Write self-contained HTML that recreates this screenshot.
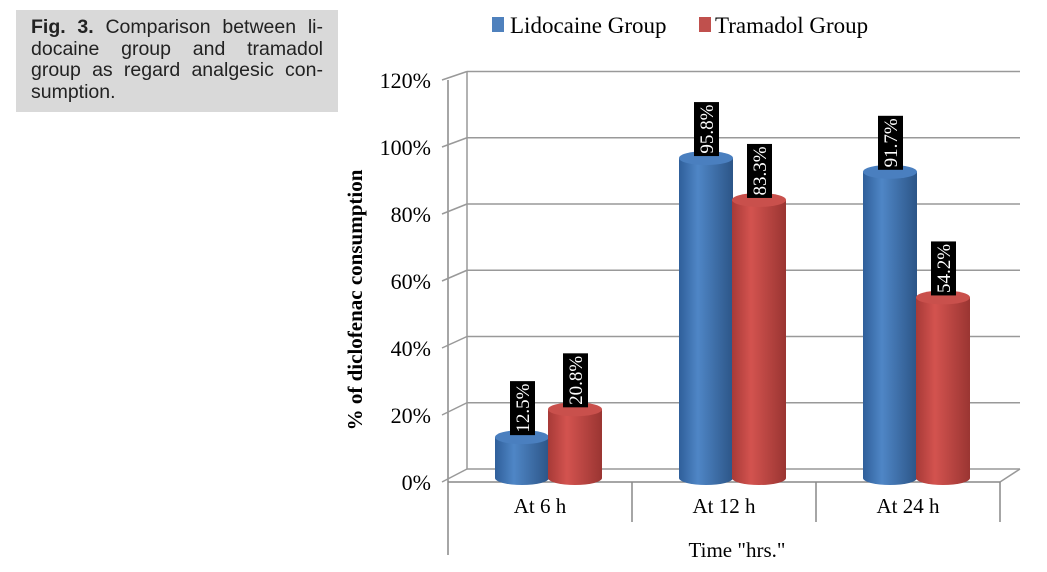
<!DOCTYPE html>
<html><head><meta charset="utf-8"><style>
body{margin:0;background:#fff;width:1047px;height:572px;overflow:hidden;position:relative}
#cap{position:absolute;left:16px;top:10px;width:292px;height:95px;background:#d9d9d9;padding:7px 15px 0 15px;font-family:"Liberation Sans",sans-serif;font-size:19.5px;line-height:21.7px;color:#222}
#cap div{text-align:justify;text-align-last:justify;white-space:nowrap}
#cap div.last{text-align-last:left}
</style></head><body>
<div id="cap"><div><b>Fig. 3.</b> Comparison between li-</div><div>docaine group and tramadol</div><div>group as regard analgesic con-</div><div class="last">sumption.</div></div>
<svg id="chart" width="1047" height="572" style="position:absolute;left:0;top:0">
<defs>
<linearGradient id="gb" x1="0" x2="1"><stop offset="0" stop-color="#2f5f9a"/><stop offset="0.35" stop-color="#4f86c6"/><stop offset="1" stop-color="#2c5587"/></linearGradient>
<linearGradient id="gr" x1="0" x2="1"><stop offset="0" stop-color="#a73a37"/><stop offset="0.35" stop-color="#d3534f"/><stop offset="1" stop-color="#9a3532"/></linearGradient>
</defs>
<g id="grid"></g><g id="bars"></g><g id="labels"></g>
</svg>
<script>
const categories=["At 6 h","At 12 h","At 24 h"];
const lidocaine=[12.5,95.8,91.7];
const tramadol=[20.8,83.3,54.2];
const ticks=[0,20,40,60,80,100,120];
const NS="http://www.w3.org/2000/svg";
const svg=document.getElementById('chart');
function mk(t,a,p){const e=document.createElementNS(NS,t);for(const k in a)e.setAttribute(k,a[k]);(p||svg).appendChild(e);return e;}
const yF=v=>482-v*3.35, yB=v=>469-v*3.3125;
const xF0=448,xB0=467,xR=1020;
const catC=i=>540+i*184;
const G=document.getElementById('grid');
mk('line',{x1:xB0,y1:yB(120),x2:xB0,y2:yB(0),stroke:'#999','stroke-width':1.5},G);
mk('line',{x1:xF0,y1:yF(120),x2:xF0,y2:555,stroke:'#888','stroke-width':1.5},G);
ticks.forEach(t=>{
 const l=mk('line',{x1:xB0,y1:yB(t),x2:xR,y2:yB(t),stroke:'#999','stroke-width':1.5},G);
 
 mk('line',{x1:xF0-6,y1:yF(t),x2:xB0,y2:yB(t),stroke:'#999','stroke-width':1.5},G);
 const tx=mk('text',{x:431,y:yF(t)+8,'text-anchor':'end','font-family':'Liberation Serif, serif','font-size':22},G);
 tx.textContent=t+'%';
 
});
mk('line',{x1:xF0,y1:yF(0),x2:1000,y2:yF(0),stroke:'#888','stroke-width':1.5},G);
mk('line',{x1:1000,y1:yF(0),x2:xR,y2:yB(0),stroke:'#999','stroke-width':1.5},G);
[1,2,3].forEach(i=>mk('line',{x1:xF0+i*184,y1:yF(0),x2:xF0+i*184,y2:522,stroke:'#888','stroke-width':1.5},G));
categories.forEach((c,i)=>{const t=mk('text',{x:catC(i),y:513,'text-anchor':'middle','font-family':'Liberation Serif, serif','font-size':21},G);t.textContent=c;
 });
let t=mk('text',{x:737,y:557,'text-anchor':'middle','font-family':'Liberation Serif, serif','font-size':21},G);t.textContent='Time "hrs."';

t=mk('text',{x:0,y:0,transform:'translate(362,300) rotate(-90)','text-anchor':'middle','font-family':'Liberation Serif, serif','font-size':21,'font-weight':'bold'},G);t.textContent='% of diclofenac consumption';

// legend
mk('rect',{x:492,y:17,width:12,height:15,fill:'#4f81bd'});
t=mk('text',{x:510,y:33,'font-family':'Liberation Serif, serif','font-size':23});t.textContent='Lidocaine Group';

mk('rect',{x:699,y:17,width:12,height:15,fill:'#c0504d'});
t=mk('text',{x:715,y:33,'font-family':'Liberation Serif, serif','font-size':23});t.textContent='Tramadol Group';

const B=document.getElementById('bars'),L=document.getElementById('labels');
function cyl(cx,v,grad,top,name){
 const w=27,ry=7,yt=yF(v)-3,yb=478;
 const g=mk('g',{},B);
 
 mk('ellipse',{cx:cx,cy:yb,rx:w,ry:ry,fill:'url(#'+grad+')'},g);
 mk('rect',{x:cx-w,y:yt,width:2*w,height:yb-yt,fill:'url(#'+grad+')'},g);
 mk('ellipse',{cx:cx,cy:yt,rx:w,ry:ry,fill:top},g);
 const bx=mk('rect',{x:cx-12,y:yt-56,width:25,height:54,fill:'#000'},L);
 
 const tx=mk('text',{x:0,y:0,transform:`translate(${cx+7},${yt-29}) rotate(-90)`,'text-anchor':'middle',fill:'#fff','font-family':'Liberation Serif, serif','font-size':19},L);
 tx.textContent=v.toFixed(1)+'%';
}
categories.forEach((c,i)=>{
 cyl(catC(i)-18,lidocaine[i],'gb','#4a7fbf','bar-lidocaine-'+i);
 cyl(catC(i)+35,tramadol[i],'gr','#c9504c','bar-tramadol-'+i);
});
</script>
</body></html>
